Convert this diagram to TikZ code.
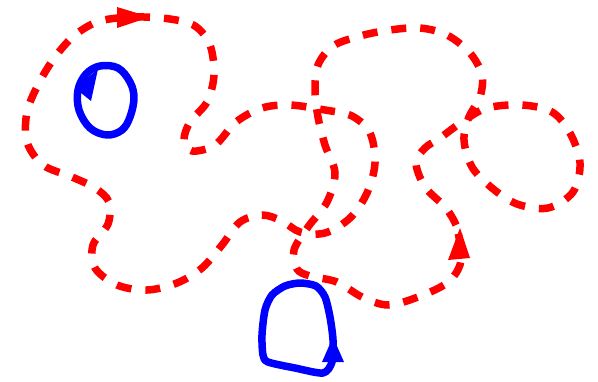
\documentclass[tikz,border=0pt]{standalone}
\begin{document}
\begin{tikzpicture}[x=1pt,y=-1pt,
  redloop/.style={draw=red, line width=7.5pt, dash pattern=on 15pt off 14pt},
  blueloop/.style={draw=blue, line width=7.5pt, line join=round},
  redtip/.style={fill=red},
  bluetip/.style={fill=blue}]
\useasboundingbox (0,0) rectangle (598,381);
% blue loops
\draw[blueloop] plot[smooth cycle, tension=0.6] coordinates {
  (100,66) (118,68) (130,82) (134,98) (130,117) (122,130) (107,135)
  (90,128) (79,110) (78,90) (86,74)};
\fill[bluetip] (98,69) -- (75,88) -- (91,101) -- cycle;
\draw[blueloop] plot[smooth cycle, tension=0.45] coordinates {
  (300,283) (316,286) (325,297) (330,317) (333,340) (332,362) (323,373)
  (295,368) (268,362) (263,355) (262,335) (265,310) (272,295) (285,286)};
\fill[bluetip] (333,337) -- (344,362) -- (322,362) -- cycle;
% red loop 1
\draw[redloop] plot[smooth cycle, tension=0.55] coordinates {
  (100,21) (135,17) (170,19) (195,26) (210,45) (214,75) (207,102)
  (190,122) (184,140) (192,151) (215,145) (236,122) (262,108) (290,105)
  (325,110) (352,116) (370,133) (375,163) (367,193) (350,218) (325,233)
  (300,232) (282,221) (262,215) (240,222) (222,245) (202,268) (177,283)
  (147,290) (117,285) (95,268) (93,245) (108,224) (109,202) (95,188)
  (72,177) (43,165) (27,142) (27,112) (39,83) (55,57) (75,35)};
\fill[redtip] (150,17) -- (117,7) -- (117,28) -- cycle;
% red loop 2
\draw[redloop] plot[smooth cycle, tension=0.55] coordinates {
  (460,245) (456,225) (445,207) (425,187) (416,163) (425,148) (440,138)
  (462,122) (487,108) (522,105) (552,112) (570,133) (580,163) (573,192)
  (548,208) (517,204) (492,188) (472,167) (464,140) (469,117) (480,97)
  (482,75) (470,53) (447,35) (420,28) (390,30) (360,36) (333,46)
  (318,65) (315,90) (318,117) (325,145) (335,173) (327,202) (308,227)
  (294,250) (297,269) (310,276) (337,282) (362,297) (388,305) (418,297)
  (447,283) (460,265)};
\fill[redtip] (460,228) -- (470,258) -- (448,260) -- cycle;
\end{tikzpicture}
\end{document}
